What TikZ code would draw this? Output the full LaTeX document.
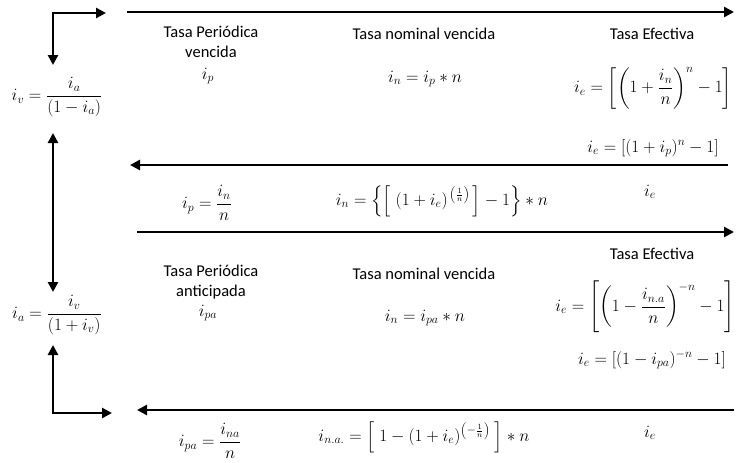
\documentclass[tikz,border=0pt]{standalone}
\usepackage{amsmath}
\usepackage{fontspec}
\setmainfont{Carlito}
\usetikzlibrary{arrows.meta}
\begin{document}
\begin{tikzpicture}[x=1pt,y=-1pt,
  lbl/.style={font=\fontsize{16.5}{19.5}\selectfont, align=center, inner sep=0pt},
  eq/.style={font=\fontsize{18}{21}\selectfont, inner sep=0pt},
  eqs/.style={font=\fontsize{17}{20}\selectfont, inner sep=0pt},
  thick arrow/.style={line width=2.6pt, -{Triangle[length=10pt,width=10pt]}},
  both arrow/.style={line width=2.6pt, {Triangle[length=10pt,width=10pt]}-{Triangle[length=10pt,width=10pt]}}]
\useasboundingbox (0,0) rectangle (736,463);
% coordinates for connectors
\coordinate (e1a) at (53,65);
\coordinate (e1c) at (53,13);
\coordinate (e1b) at (106,13);
\coordinate (t1s) at (127,12);
\coordinate (t1e) at (734,12);
\coordinate (l1s) at (728,165);
\coordinate (l1e) at (130,165);
\coordinate (m1s) at (137,232);
\coordinate (m1e) at (734,232);
\coordinate (b1s) at (734,410);
\coordinate (b1e) at (137,410);
\coordinate (vda) at (53,133);
\coordinate (vdb) at (53,292);
\coordinate (e2a) at (53,345);
\coordinate (e2c) at (53,413);
\coordinate (e2b) at (112,413);
% connectors
\draw[both arrow] (e1a) -- (e1c) -- (e1b);
\draw[thick arrow] (t1s) -- (t1e);
\draw[thick arrow] (l1s) -- (l1e);
\draw[thick arrow] (m1s) -- (m1e);
\draw[thick arrow] (b1s) -- (b1e);
\draw[both arrow] (vda) -- (vdb);
\draw[both arrow] (e2a) -- (e2c) -- (e2b);
% left formulas
\node[eq] (iv) at (57,97) {$i_v=\dfrac{i_a}{(1-i_a)}$};
\node[eq] (ia) at (57,315) {$i_a=\dfrac{i_v}{(1+i_v)}$};
% upper block
\node[lbl] (tp1) at (211,42) {Tasa Periódica\\vencida};
\node[eq] (ip) at (208,76) {$i_p$};
\node[lbl] (tn1) at (424,34) {Tasa nominal vencida};
\node[eq] (in1) at (425,79) {$i_n=i_p*n$};
\node[lbl] (te1) at (652,34) {Tasa Efectiva};
\node[eqs] (ie1) at (653,88) {$i_e=\left[\left(1+\dfrac{i_n}{n}\right)^{n}-1\right]$};
\node[eqs] (ie2) at (653,148) {$i_e=\left[(1+i_p)^{n}-1\right]$};
\node[eq] (ip2) at (207,203) {$i_p=\dfrac{i_n}{n}$};
\node[eqs] (in2) at (442,201) {$i_n=\Big\{\Big[\;(1+i_e)^{\,\left(\frac{1}{n}\right)}\,\Big]-1\Big\}*n$};
\node[eqs] (ie3) at (650,192) {$i_e$};
% lower block
\node[lbl] (tp2) at (211,282) {Tasa Periódica\\anticipada};
\node[eq] (ipa) at (208,313) {$i_{pa}$};
\node[lbl] (tn2) at (424,274) {Tasa nominal vencida};
\node[eq] (in3) at (425,318) {$i_n=i_{pa}*n$};
\node[lbl] (te2) at (652,254) {Tasa Efectiva};
\node[eqs] (ie4) at (645,307) {$i_e=\left[\left(1-\dfrac{i_{n.a}}{n}\right)^{-n}-1\right]$};
\node[eqs] (ie5) at (652,360) {$i_e=\left[(1-i_{pa})^{-n}-1\right]$};
\node[eq] (ipa2) at (210,441) {$i_{pa}=\dfrac{i_{na}}{n}$};
\node[eqs] (ina) at (424,437) {$i_{n.a.}=\Big[\;1-(1+i_e)^{\left(-\frac{1}{n}\right)}\;\Big]*n$};
\node[eqs] (ie6) at (650,433) {$i_e$};
\end{tikzpicture}
\end{document}
